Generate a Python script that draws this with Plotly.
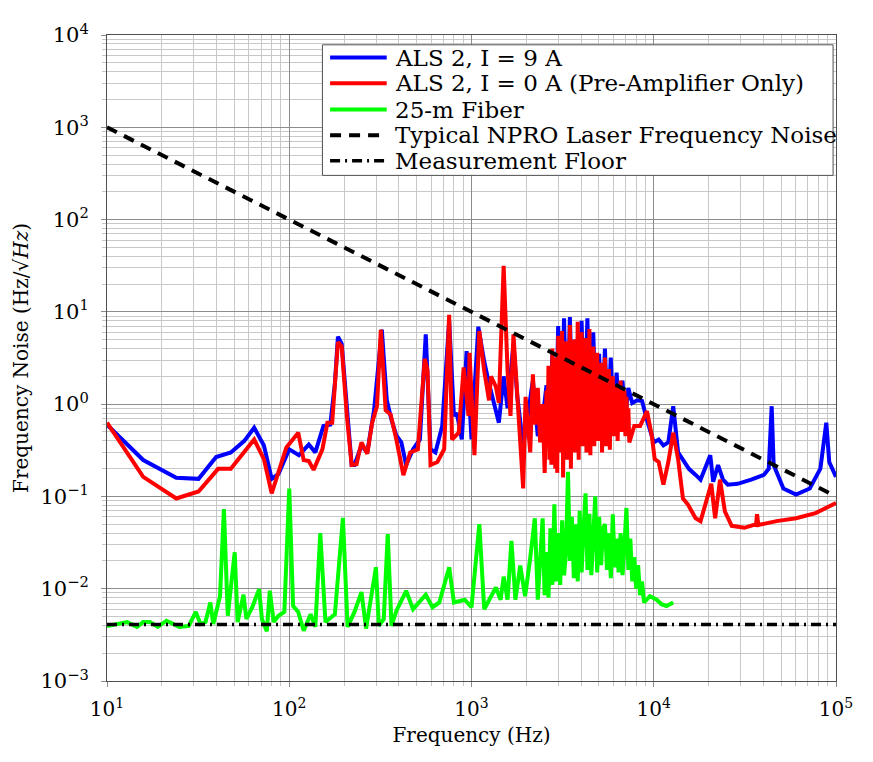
# coding:utf-8
import plotly.graph_objs as go

# ALS 2, I = 9 A
blue_f = [10, 15.8, 24, 31.8, 39.7, 47.8, 56.7, 64.2, 72.6, 80.1, 87.3, 100, 113, 128, 139, 154, 168,
          178, 185, 194, 209, 220, 228, 249, 268, 292, 322, 343, 364, 387, 412, 438, 478, 521, 561,
          596, 634, 691, 754, 801, 831, 885, 940, 1000, 1090, 1174, 1248, 1327, 1413, 1501, 1577,
          1699, 1784, 1921, 2043, 2172, 2311, 2457]
blue_noise = [0.60, 0.248, 0.159, 0.155, 0.267, 0.30, 0.40, 0.555, 0.357, 0.155, 0.175, 0.324, 0.28,
              0.365, 0.30, 0.58, 0.60, 1.67, 5.4, 4.5, 0.745, 0.219, 0.219, 0.357, 0.30, 0.86, 6.4,
              1.10, 0.675, 0.457, 0.385, 0.219, 0.324, 0.414, 5.7, 0.324, 0.30, 0.58, 8.0, 0.745,
              0.80, 0.414, 3.75, 0.414, 6.9, 2.9, 1.67, 1.03, 0.63, 2.0, 0.9, 4.5, 1.2, 0.35, 0.8,
              1.8, 0.45, 0.7]
blue_dense_f = [2580, 2677, 2778, 2882, 2990, 3103, 3219, 3340, 3466, 3596, 3731, 3871, 4017, 4167,
                4324, 4487, 4655, 4830, 5012, 5200, 5396, 5598, 5809, 6027, 6254, 6489, 6733, 6986,
                7248]
blue_dense_noise = [1.6, 0.4, 3.5, 0.35, 7.0, 0.5, 8.5, 0.45, 8.8, 0.6, 5.0, 0.4, 8.0, 0.7, 8.5, 0.45,
                    6.0, 0.6, 3.5, 0.5, 4.0, 0.6, 3.2, 0.55, 2.2, 0.6, 1.8, 0.7, 1.5]
blue_high_f = [7622, 8110, 8627, 9180, 10000, 10640, 11300, 12020, 12790, 13600, 14460, 15590, 16980,
               18060, 20420, 21190, 22540, 23980, 25490, 28840, 34260, 40200, 42760, 44370, 45490,
               51450, 60390, 71780, 82090, 88460, 91830, 100000]
blue_high_noise = [1.03, 1.10, 1.08, 0.675, 0.385, 0.414, 0.357, 0.385, 0.95, 0.30, 0.254, 0.199,
                   0.171, 0.152, 0.28, 0.144, 0.219, 0.152, 0.134, 0.137, 0.152, 0.171, 0.20, 0.95,
                   0.219, 0.122, 0.105, 0.122, 0.20, 0.63, 0.236, 0.163]

# ALS 2, I = 0 A (Pre-Amplifier Only)
red_f = [10, 15.8, 24, 31.8, 40.7, 47.8, 64.2, 72.6, 80.1, 96.4, 112, 120, 128, 136, 152, 162, 172,
         185, 194, 207, 220, 234, 249, 268, 285, 303, 318, 338, 360, 387, 423, 461, 508, 554, 574,
         596, 650, 708, 754, 782, 851, 906, 963, 975, 1038, 1104, 1174, 1248, 1279, 1361, 1413,
         1501, 1577, 1637, 1699, 1784, 1851, 1921, 1980, 2043, 2100, 2172, 2240, 2311, 2380, 2457,
         2520]
red_noise = [0.63, 0.163, 0.095, 0.113, 0.199, 0.199, 0.414, 0.254, 0.108, 0.34, 0.49, 0.248, 0.242,
             0.194, 0.324, 0.63, 0.63, 4.7, 4.2, 0.745, 0.219, 0.223, 0.385, 0.29, 0.63, 0.95, 6.4,
             0.86, 0.77, 0.414, 0.17, 0.30, 0.324, 3.1, 2.3, 0.219, 0.236, 0.324, 9.3, 0.414, 0.49,
             2.5, 0.745, 3.6, 0.28, 6.2, 2.3, 1.10, 2.0, 1.55, 1.03, 31.6, 2.3, 0.745, 5.7, 1.41,
             0.385, 0.122, 1.2, 0.52, 0.3, 2.1, 0.6, 1.5, 0.385, 1.0, 0.18]
red_dense_f = [2580, 2612, 2644, 2677, 2710, 2744, 2778, 2812, 2847, 2882,
               2918, 2954, 2991, 3028, 3065, 3103, 3142, 3181, 3220, 3260,
               3300, 3341, 3383, 3425, 3467, 3510, 3553, 3597, 3642, 3687,
               3733, 3779, 3826, 3873, 3921, 3970, 4019, 4069, 4119, 4170,
               4222, 4274, 4327, 4380, 4435, 4490, 4545, 4601, 4658, 4716,
               4774, 4833, 4893, 4954, 5015, 5077, 5140, 5204, 5268, 5333,
               5399, 5466, 5534, 5602, 5672, 5742, 5813, 5885, 5958, 6032,
               6107, 6182, 6259, 6336, 6415, 6494, 6575, 6656, 6738, 6822,
               6906, 6992, 7078, 7166, 7255]
red_dense_noise = [1.4, 0.35, 2.6, 0.25, 1.2, 0.22, 4.0, 0.5, 1.9, 0.2,
                   3.2, 0.18, 5.5, 0.6, 2.4, 0.3, 6.2, 0.16, 1.8, 0.45,
                   4.8, 0.25, 2.2, 0.55, 7.2, 0.2, 3.0, 0.4, 5.0, 0.3,
                   1.6, 0.6, 7.8, 0.25, 3.5, 0.45, 6.0, 0.35, 2.0, 0.7,
                   5.2, 0.3, 3.0, 0.5, 6.5, 0.28, 2.6, 0.6, 4.2, 0.35,
                   2.0, 0.55, 3.6, 0.4, 1.5, 0.5, 2.8, 0.3, 1.8, 0.6,
                   3.2, 0.35, 1.4, 0.5, 2.4, 0.32, 1.3, 0.55, 2.0, 0.45,
                   1.1, 0.5, 1.6, 0.4, 1.2, 0.6, 1.8, 0.5, 1.0, 0.55,
                   1.4, 0.45, 1.2, 0.6, 0.9]
red_high_f = [7345, 7816, 8414, 9180, 9754, 10120, 10640, 11300, 12020, 12790, 13600, 14460, 15380,
              16980, 18060, 19200, 20680, 21720, 23100, 24560, 26790, 31420, 36410, 36880, 37500,
              47190, 60390, 77260, 100000]
red_high_noise = [0.385, 0.58, 0.58, 0.84, 0.457, 0.254, 0.236, 0.134, 0.236, 0.49, 0.254, 0.095,
                  0.082, 0.058, 0.054, 0.082, 0.137, 0.058, 0.152, 0.069, 0.048, 0.0457, 0.050,
                  0.064, 0.049, 0.054, 0.058, 0.066, 0.085]

# 25-m Fiber
green_f = [10, 11.4, 12.9, 14.6, 15.8, 17.2, 19.0, 21.2, 24.9, 28.1, 30.7, 32.6, 34.7, 36.9, 38.3,
           41.7, 43.8, 46.0, 50.2, 52.1, 56.1, 58.2, 62.7, 68.3, 70.8, 75.3, 78.2, 82.1, 87.3, 94.0,
           100, 105, 112, 120, 131, 139, 148, 158, 178, 197, 209, 228, 249, 264, 299, 310, 330, 347,
           364, 387, 438, 478, 561, 611, 666, 754, 801, 918, 1000, 1104, 1174, 1361, 1445, 1501,
           1577, 1656, 1741, 1851, 1968, 2093, 2226, 2311]
green_noise = [0.00395, 0.00414, 0.00435, 0.00386, 0.00435, 0.00435, 0.00386, 0.0045, 0.00386,
               0.00395, 0.0056, 0.00414, 0.00435, 0.0071, 0.00414, 0.0083, 0.0728, 0.0051, 0.0248,
               0.00435, 0.0086, 0.0047, 0.0063, 0.0099, 0.0047, 0.00345, 0.0095, 0.00435, 0.0051,
               0.0056, 0.122, 0.0065, 0.0056, 0.0035, 0.0053, 0.00386, 0.040, 0.00435, 0.0053,
               0.0585, 0.00386, 0.0056, 0.0092, 0.0037, 0.0171, 0.00395, 0.0047, 0.039, 0.00395,
               0.00575, 0.0095, 0.0060, 0.0086, 0.0063, 0.0071, 0.0171, 0.0071, 0.0076, 0.0063,
               0.050, 0.0060, 0.0103, 0.0076, 0.0135, 0.0076, 0.033, 0.0076, 0.0178, 0.0083, 0.0204,
               0.058, 0.0076]
green_dense_f = [2457, 2518, 2581, 2645, 2711, 2779, 2848, 2919, 2992, 3066, 3143, 3221, 3301, 3384,
                 3468, 3554, 3643, 3734, 3827, 3922, 4020, 4120, 4223, 4328, 4436, 4546, 4660, 4776,
                 4895, 5017, 5142, 5270, 5401, 5536, 5674, 5815, 5960, 6109, 6261, 6417, 6577, 6741,
                 6909, 7081, 7257, 7438, 7624, 7814, 8009, 8208, 8413, 8622]
green_dense_noise = [0.058, 0.0085, 0.025, 0.008, 0.045, 0.011, 0.082, 0.012, 0.04, 0.011, 0.055,
                     0.014, 0.025, 0.185, 0.02, 0.06, 0.013, 0.05, 0.012, 0.07, 0.015, 0.045, 0.108,
                     0.016, 0.065, 0.014, 0.05, 0.10, 0.015, 0.06, 0.018, 0.045, 0.05, 0.016, 0.04,
                     0.013, 0.064, 0.017, 0.035, 0.015, 0.04, 0.014, 0.03, 0.075, 0.016, 0.035, 0.012,
                     0.022, 0.01, 0.018, 0.0085, 0.012]
green_high_f = [8847, 9530, 10380, 11030, 11740, 12790]
green_high_noise = [0.0071, 0.0083, 0.0076, 0.0068, 0.0065, 0.0071]

# Typical NPRO laser frequency noise (1e4 / f) and measurement floor
npro_f = [10, 100000]
npro_noise = [1000, 0.1]
floor_f = [10, 100000]
floor_noise = [0.0041, 0.0041]

labels = ['ALS 2, I = 9 A', 'ALS 2, I = 0 A (Pre-Amplifier Only)', '25-m Fiber',
          'Typical NPRO Laser Frequency Noise', 'Measurement Floor']

x_ticks = [10, 100, 1000, 10000, 100000]
x_ticktext = ['10<sup>1</sup>', '10<sup>2</sup>', '10<sup>3</sup>', '10<sup>4</sup>', '10<sup>5</sup>']
y_ticks = [0.001, 0.01, 0.1, 1, 10, 100, 1000, 10000]
y_ticktext = ['10<sup>\u22123</sup>', '10<sup>\u22122</sup>', '10<sup>\u22121</sup>', '10<sup>0</sup>',
              '10<sup>1</sup>', '10<sup>2</sup>', '10<sup>3</sup>', '10<sup>4</sup>']

FONT = 'DejaVu Serif'

colors = ['rgb(0,0,255)', 'rgb(255,0,0)', 'rgb(0,255,0)', 'black', 'black']
dashes = ['solid', 'solid', 'solid', '11px,8px', '10px,5px,2px,5px']
widths = [4, 4, 4, 4, 3.5]


def minor_vals(lo, hi):
    vals = []
    for d in range(lo, hi):
        for k in range(2, 10):
            vals.append(k * 10.0 ** d)
    return vals


xs = [blue_f + blue_dense_f + blue_high_f,
      red_f + red_dense_f + red_high_f,
      green_f + green_dense_f + green_high_f,
      npro_f, floor_f]
ys = [blue_noise + blue_dense_noise + blue_high_noise,
      red_noise + red_dense_noise + red_high_noise,
      green_noise + green_dense_noise + green_high_noise,
      npro_noise, floor_noise]

traces = []
for i in range(len(xs)):
    traces.append(go.Scatter(x=xs[i], y=ys[i], mode='lines', name=labels[i], showlegend=False,
                             line=dict(color=colors[i], width=widths[i], dash=dashes[i])))

axis_common = dict(
    type='log',
    showline=True,
    mirror=True,
    linecolor='rgb(80,80,80)',
    linewidth=1,
    showgrid=True,
    gridcolor='rgb(140,140,140)',
    gridwidth=1,
    zeroline=False,
    ticks='outside',
    ticklen=5,
    tickcolor='rgb(140,140,140)',
    tickfont=dict(family=FONT, size=21, color='black'),
    tickmode='array',
)

# legend box drawn by hand so the rows sit as tight as in the reference
leg_x0, leg_x1, leg_y0, leg_y1 = 0.2955, 0.996, 0.7827, 0.9848
row_y = [0.965, 0.9255, 0.8845, 0.845, 0.8055]
shapes = [dict(type='rect', xref='paper', yref='paper', x0=leg_x0, x1=leg_x1, y0=leg_y0, y1=leg_y1,
               fillcolor='white', line=dict(color='rgb(80,80,80)', width=1), layer='above')]
annotations = []
for i in range(len(labels)):
    shapes.append(dict(type='line', xref='paper', yref='paper', x0=0.306, x1=0.3837,
                       y0=row_y[i], y1=row_y[i], layer='above',
                       line=dict(color=colors[i], width=widths[i], dash=dashes[i])))
    annotations.append(dict(xref='paper', yref='paper', x=0.393, y=row_y[i],
                            xanchor='left', yanchor='middle', text=labels[i], showarrow=False,
                            font=dict(family=FONT, size=23, color='black')))

# the page adds an 8px body margin, so the figure is 16px smaller than the window;
# the right margin leaves room for the last x tick label inside the figure
layout = go.Layout(
    width=857,
    height=746,
    autosize=False,
    paper_bgcolor='white',
    plot_bgcolor='white',
    margin=dict(l=98, r=19, t=17, b=71),
    xaxis=dict(axis_common,
               range=[1, 5],
               tickvals=x_ticks,
               ticktext=x_ticktext,
               tickfont=dict(family=FONT, size=20, color='black'),
               ticklabelstandoff=5,
               minor=dict(tickmode='array', tickvals=minor_vals(1, 5), showgrid=True,
                          gridcolor='rgb(200,200,200)', ticks='outside', ticklen=4,
                          tickcolor='rgb(200,200,200)'),
               title=dict(text='Frequency (Hz)', font=dict(family=FONT, size=20, color='black'),
                          standoff=7)),
    yaxis=dict(axis_common,
               range=[-3, 4],
               tickvals=y_ticks,
               ticktext=y_ticktext,
               ticklabelstandoff=8,
               minor=dict(tickmode='array', tickvals=minor_vals(-3, 4), showgrid=True,
                          gridcolor='rgb(200,200,200)', ticks='outside', ticklen=4,
                          tickcolor='rgb(200,200,200)'),
               title=dict(text='Frequency Noise (Hz/\u221a<i>Hz</i>)',
                          font=dict(family=FONT, size=20, color='black'), standoff=6)),
    shapes=shapes,
    annotations=annotations,
    showlegend=False,
)

fig = go.Figure(data=traces, layout=layout)
fig.write_html('out.html')
